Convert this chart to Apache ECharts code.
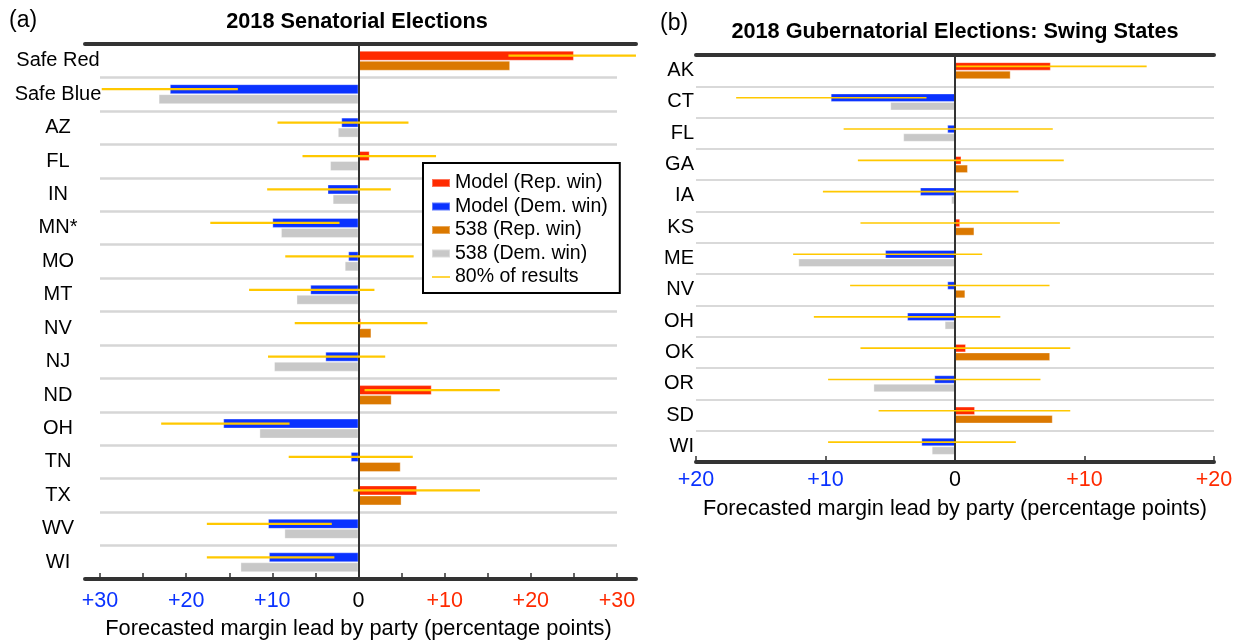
<!DOCTYPE html>
<html>
<head>
<meta charset="utf-8">
<script src="https://cdn.jsdelivr.net/npm/echarts@6/dist/echarts.min.js"></script>
<style>
  html, body { margin: 0; padding: 0; background: #fff; }
  #chart { width: 1238px; height: 640px; }
</style>
</head>
<body>
<div id="chart"></div>
<script>
// ---- data (margins in percentage points, + = Rep lead, - = Dem lead) ----
var senateStates = ['Safe Red', 'Safe Blue', 'AZ', 'FL', 'IN', 'MN*', 'MO', 'MT', 'NV', 'NJ', 'ND', 'OH', 'TN', 'TX', 'WV', 'WI'];
var senateModel = [25.0, -21.9, -2.0, 1.3, -3.6, -10.0, -1.2, -5.6, 0.3, -3.85, 8.5, -15.7, -0.9, 6.8, -10.5, -10.4];
var senate538 = [17.6, -23.2, -2.4, -3.3, -3.0, -9.0, -1.6, -7.2, 1.5, -9.8, 3.85, -11.5, 4.9, 5.0, -8.6, -13.7];
var senateLow = [17.4, -29.8, -9.4, -6.5, -10.6, -17.2, -8.5, -12.7, -7.4, -10.5, 0.7, -22.9, -8.1, -0.6, -17.6, -17.6];
var senateHigh = [32.2, -14.0, 5.8, 9.0, 3.75, -2.2, 6.4, 1.85, 8.0, 3.1, 16.4, -8.0, 6.3, 14.1, -3.1, -2.8];

var govStates = ['AK', 'CT', 'FL', 'GA', 'IA', 'KS', 'ME', 'NV', 'OH', 'OK', 'OR', 'SD', 'WI'];
var govModel = [7.4, -9.6, -0.6, 0.5, -2.7, 0.4, -5.4, -0.6, -3.7, 0.85, -1.6, 1.55, -2.6];
var gov538 = [4.3, -5.0, -4.0, 1.0, -0.3, 1.5, -12.1, 0.8, -0.8, 7.35, -6.3, 7.55, -1.8];
var govLow = [0.1, -16.9, -8.6, -7.5, -10.2, -7.3, -12.5, -8.1, -10.9, -7.3, -9.8, -5.9, -9.8];
var govHigh = [14.8, -2.2, 7.55, 8.4, 4.9, 8.1, 2.1, 7.3, 3.5, 8.9, 6.6, 8.9, 4.7];

var senateTicks = [-30, -20, -10, 0, 10, 20, 30];
var govTicks = [-20, -10, 0, 10, 20];

// ---- style ----
var FONT = '"Liberation Sans", Arial, Helvetica, sans-serif';
var RED = '#ff2a00', BLUE = '#0a32ff', ORANGE = '#db7800', GREY = '#c8c8c8', YELLOW = '#ffc800';
var DARK = '#333333';
var LEGEND_NAMES = ['Model (Rep. win)', 'Model (Dem. win)', '538 (Rep. win)', '538 (Dem. win)', '80% of results'];

function pos(arr) { return arr.map(function (v) { return v > 0 ? v : '-'; }); }
function neg(arr) { return arr.map(function (v) { return v < 0 ? v : '-'; }); }

function tickLabel(v) {
  if (v === 0) return '{z|0}';
  if (v < 0) return '{d|+' + (-v) + '}';
  return '{r|+' + v + '}';
}
var tickRich = {
  z: { color: '#000', fontSize: 21.5, fontFamily: FONT },
  d: { color: BLUE, fontSize: 21.5, fontFamily: FONT },
  r: { color: RED, fontSize: 21.5, fontFamily: FONT }
};

// horizontal yellow line drawn through the middle of the model bar
function rangeRenderer(barW, lw) {
  return function (params, api) {
    var a = api.coord([api.value(0), api.value(2)]);
    var b = api.coord([api.value(1), api.value(2)]);
    var off = -barW / 2;
    return {
      type: 'line',
      shape: { x1: a[0], y1: a[1] + off, x2: b[0], y2: b[1] + off },
      style: { stroke: YELLOW, lineWidth: lw }
    };
  };
}
function rangeData(lo, hi) {
  return lo.map(function (v, i) { return [v, hi[i], i]; });
}

function barSeries(name, data, stack, color, xi, yi, w) {
  return {
    name: name, type: 'bar', stack: stack,
    xAxisIndex: xi, yAxisIndex: yi,
    data: data, barWidth: w, barGap: '0%',
    itemStyle: { color: color, borderColor: 'rgba(255,255,255,0.35)', borderWidth: 1 },
    emphasis: { disabled: true }
  };
}

var zeroLine = {
  silent: true, symbol: ['none', 'none'],
  label: { show: false },
  lineStyle: { color: DARK, width: 2, type: 'solid' },
  data: [{ xAxis: 0 }]
};

var LW = 10, RW = 8.5;

var chart = echarts.init(document.getElementById('chart'));
var option = {
  animation: false,
  textStyle: { fontFamily: FONT },
  graphic: [
    { type: 'text', x: 9, y: 9, style: { text: '(a)', font: '23px ' + FONT, fill: '#000' } },
    { type: 'text', x: 357, y: 11, style: { text: '2018 Senatorial Elections', font: 'bold 21.7px ' + FONT, fill: '#000', align: 'center' } },
    { type: 'text', x: 660, y: 12, style: { text: '(b)', font: '23px ' + FONT, fill: '#000' } },
    { type: 'text', x: 955, y: 21, style: { text: '2018 Gubernatorial Elections: Swing States', font: 'bold 21.7px ' + FONT, fill: '#000', align: 'center' } }
  ],
  legend: {
    orient: 'vertical', left: 423, top: 163,
    data: LEGEND_NAMES,
    itemWidth: 18, itemHeight: 8, itemGap: 3.5,
    padding: [10, 12, 6, 8],
    borderColor: '#000', borderWidth: 2,
    backgroundColor: '#fff',
    selectedMode: false,
    textStyle: { fontSize: 19.5, fontFamily: FONT, color: '#000', lineHeight: 20 }
  },
  grid: [
    { left: 100, right: 621, top: 44, bottom: 61, outerBoundsMode: 'none', containLabel: false },
    { left: 85, right: 602, top: 44, bottom: 61, outerBoundsMode: 'none', containLabel: false },
    { left: 696, right: 24, top: 55, bottom: 178, outerBoundsMode: 'none', containLabel: false }
  ],
  xAxis: [
    {
      gridIndex: 0, type: 'value', min: -30, max: 30, interval: 5,
      axisLine: { show: false },
      axisTick: { show: true, inside: true, length: 6, lineStyle: { color: DARK, width: 1.5 } },
      splitLine: { show: false },
      axisLabel: {
        margin: 11,
        formatter: function (v) { return senateTicks.indexOf(v) >= 0 ? tickLabel(v) : ''; },
        rich: tickRich
      },
      name: 'Forecasted margin lead by party (percentage points)',
      nameLocation: 'middle', nameGap: 39,
      nameTextStyle: { fontSize: 21.8, color: '#000', fontFamily: FONT }
    },
    {
      gridIndex: 1, type: 'value', min: 0, max: 1, position: 'bottom',
      axisLine: { show: true, lineStyle: { color: DARK, width: 4 } },
      axisTick: { show: false }, axisLabel: { show: false }, splitLine: { show: false }
    },
    {
      gridIndex: 1, type: 'value', min: 0, max: 1, position: 'top',
      axisLine: { show: true, lineStyle: { color: DARK, width: 4 } },
      axisTick: { show: false }, axisLabel: { show: false }, splitLine: { show: false }
    },
    {
      gridIndex: 2, type: 'value', min: -20, max: 20, interval: 10, position: 'bottom',
      axisLine: { show: true, lineStyle: { color: DARK, width: 4 } },
      axisTick: { show: true, inside: true, length: 6, lineStyle: { color: DARK, width: 1.5 } },
      splitLine: { show: false },
      axisLabel: { margin: 7, formatter: function (v) { return govTicks.indexOf(v) >= 0 ? tickLabel(v) : ''; }, rich: tickRich },
      name: 'Forecasted margin lead by party (percentage points)',
      nameLocation: 'middle', nameGap: 36,
      nameTextStyle: { fontSize: 21.7, color: '#000', fontFamily: FONT }
    },
    {
      gridIndex: 2, type: 'value', min: -20, max: 20, position: 'top',
      axisLine: { show: true, lineStyle: { color: DARK, width: 4 } },
      axisTick: { show: false }, axisLabel: { show: false }, splitLine: { show: false }
    }
  ],
  yAxis: [
    {
      gridIndex: 0, type: 'category', inverse: true, data: senateStates,
      axisLine: { show: false }, axisTick: { show: false },
      splitLine: { show: true, lineStyle: { color: '#d6d6d6', width: 2.5 } },
      axisLabel: { align: 'center', margin: 42, fontSize: 20, color: '#000', fontFamily: FONT }
    },
    { gridIndex: 1, type: 'value', show: false, min: 0, max: 1 },
    {
      gridIndex: 2, type: 'category', inverse: true, data: govStates,
      axisLine: { show: false }, axisTick: { show: false },
      splitLine: { show: true, lineStyle: { color: '#d9d9d9', width: 2 } },
      axisLabel: { align: 'right', margin: 2, fontSize: 20, color: '#000', fontFamily: FONT }
    }
  ],
  series: [
    Object.assign(barSeries(LEGEND_NAMES[0], pos(senateModel), 'mL', RED, 0, 0, LW), { markLine: zeroLine }),
    barSeries(LEGEND_NAMES[1], neg(senateModel), 'mL', BLUE, 0, 0, LW),
    barSeries(LEGEND_NAMES[2], pos(senate538), 'fL', ORANGE, 0, 0, LW),
    barSeries(LEGEND_NAMES[3], neg(senate538), 'fL', GREY, 0, 0, LW),
    {
      name: LEGEND_NAMES[4], type: 'custom', xAxisIndex: 0, yAxisIndex: 0,
      renderItem: rangeRenderer(LW, 2.2),
      encode: { x: [0, 1], y: 2 },
      itemStyle: { color: YELLOW },
      data: rangeData(senateLow, senateHigh), z: 5, clip: false
    },
    Object.assign(barSeries(LEGEND_NAMES[0], pos(govModel), 'mR', RED, 3, 2, RW), { markLine: zeroLine }),
    barSeries(LEGEND_NAMES[1], neg(govModel), 'mR', BLUE, 3, 2, RW),
    barSeries(LEGEND_NAMES[2], pos(gov538), 'fR', ORANGE, 3, 2, RW),
    barSeries(LEGEND_NAMES[3], neg(gov538), 'fR', GREY, 3, 2, RW),
    {
      name: LEGEND_NAMES[4], type: 'custom', xAxisIndex: 3, yAxisIndex: 2,
      renderItem: rangeRenderer(RW, 1.6),
      encode: { x: [0, 1], y: 2 },
      itemStyle: { color: YELLOW },
      data: rangeData(govLow, govHigh), z: 5, clip: false
    }
  ]
};
// legend icon for the range line: thin bar centred in an 18x8 box
option.legend.data = LEGEND_NAMES.map(function (n, i) {
  return i === 4 ? { name: n, icon: 'path://M0,0L0,0ZM0,3.2H20V4.8H0ZM20,8L20,8Z' } : { name: n, icon: 'rect' };
});
chart.setOption(option);
</script>
</body>
</html>
